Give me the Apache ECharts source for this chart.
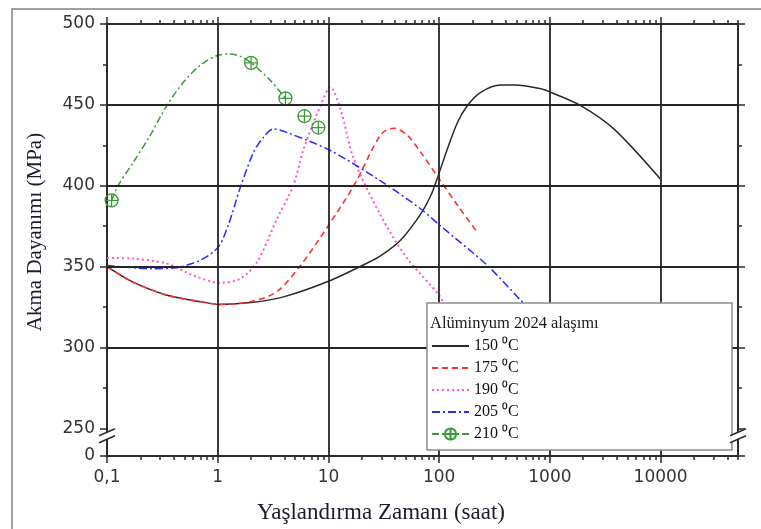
<!DOCTYPE html>
<html><head><meta charset="utf-8">
<script src="https://cdn.jsdelivr.net/npm/echarts@6/dist/echarts.min.js"></script>
<style>html,body{margin:0;padding:0;background:#fff}#c{width:761px;height:529px}</style>
</head><body><div id="c"></div>
<script>
// ---- data (time in hours, strength in MPa) ----
const xTickValues = [0.1, 1, 10, 100, 1000, 10000];
const xTickLabels = ['0,1', '1', '10', '100', '1000', '10000'];
const xAxisEnd = 50000;
const yTickValues = [250, 300, 350, 400, 450, 500];
const yMinorTicks = [275, 325, 375, 425, 475];
const yAxisBottom = 233;          // broken axis: bottom of axis is labelled 0
const yBottomLabel = '0';
const seriesNames = ['150 \u2070C', '175 \u2070C', '190 \u2070C', '205 \u2070C', '210 \u2070C'];
const legendTitle = 'Alüminyum 2024 alaşımı';
const xTitle = 'Yaşlandırma Zamanı (saat)';
const yTitle = 'Akma Dayanımı (MPa)';

const t150 = [0.1, 0.17, 0.35, 0.7, 1.05, 2, 4, 10, 22, 30, 45, 68, 84, 96, 119, 146, 180, 237, 360, 480, 830, 1000, 1900, 3800, 10000];
const v150 = [350, 340.6, 332.3, 328.4, 326.7, 327.8, 331.5, 341, 352, 357, 366.5, 382.5, 394, 404.5, 423, 439, 449.6, 457.8, 462.3, 462.3, 460, 458, 449.6, 435, 404];

const t175 = [0.1, 0.17, 0.35, 0.7, 1.05, 2, 3.4, 5.6, 10, 17, 30, 39, 52, 68, 100, 147, 215];
const v175 = [350, 340.6, 332.3, 328.4, 326.7, 328.5, 334.4, 350.8, 375.5, 400.2, 432, 435.6, 431, 420.8, 404.3, 387.8, 372.4];

const t190 = [0.1, 0.17, 0.35, 0.6, 1.05, 1.6, 2.27, 3.43, 4.82, 5.97, 8.5, 10.4, 12.9, 16.9, 29.6, 51.7, 100, 120];
const v190 = [355.4, 355, 351.9, 344.6, 340.1, 342.6, 352.9, 379.6, 400.2, 422.8, 449.6, 460.9, 447, 416.7, 381.7, 354.9, 332.3, 322];

const t205 = [0.1, 0.25, 0.4, 0.69, 1.01, 1.25, 1.6, 2.11, 2.59, 3.2, 4.2, 10.4, 29.6, 68, 101.6, 272, 546, 800];
const v205 = [350.8, 348.8, 349.2, 353.9, 362.1, 376, 399, 420.8, 430, 435.2, 433, 421.8, 403, 385.8, 375.5, 350.8, 329.2, 318];

const t210 = [0.11, 0.126, 0.173, 0.245, 0.347, 0.49, 0.69, 0.98, 1.29, 1.6, 2.0, 3.0, 4.09];
const v210 = [391, 400.2, 414.6, 431, 449.6, 464, 474.3, 480.4, 481.5, 480, 476, 465, 454];
const t210Marks = [0.11, 2.0, 4.09];
const t210Extra = [6.07, 8.1];      // isolated measured points
const v210Extra = [443, 436];

// ---- build ----
const lg = Math.log10;
const X_MIN = -1, X_MAX = lg(xAxisEnd);
const xMinor = [];
for (let n = -1; n <= 4; n++) for (let k = 2; k <= 9; k++) { const v = lg(k * Math.pow(10, n)); if (v <= X_MAX + 1e-9) xMinor.push(v); }
const xMajor = xTickValues.map(lg);
const yMajor = [yAxisBottom].concat(yTickValues);

const MARK = 'path://M10,0A10,10,0,1,1,10,20A10,10,0,1,1,10,0ZM10,0L10,20M0,10L20,10';
const AX = '#2b2b2b';
const labelFont = 'DejaVu Sans';
const serif = 'Liberation Serif';

function pts(t, v) { return t.map((x, i) => [lg(x), v[i]]); }

const greenData = t210.map((x, i) => ({ value: [lg(x), v210[i]], symbol: t210Marks.includes(x) ? MARK : 'none' }));
t210Extra.forEach((x, i) => {
  greenData.push({ value: [lg(x), '-'], symbol: 'none' });
  greenData.push({ value: [lg(x), v210Extra[i]], symbol: MARK });
});

function xAx(pos, major) {
  return {
    type: 'value', position: pos, min: X_MIN, max: X_MAX,
    axisLine: { show: major, onZero: false, lineStyle: { color: AX, width: 2 } },
    axisTick: { show: true, inside: false, length: major ? 7 : 4, customValues: major ? xMajor : xMinor, lineStyle: { color: AX, width: 1.5 } },
    axisLabel: (major && pos === 'bottom') ? {
      show: true, customValues: xMajor, margin: 13, fontSize: 17, fontFamily: labelFont, color: '#333',
      formatter: v => { const i = xMajor.findIndex(m => Math.abs(m - v) < 1e-6); return i >= 0 ? xTickLabels[i] : ''; }
    } : { show: false },
    splitLine: { show: false }
  };
}
function yAx(pos, major) {
  return {
    type: 'value', position: pos, min: yAxisBottom, max: 500,
    axisLine: { show: major, onZero: false, lineStyle: { color: AX, width: 2 } },
    axisTick: { show: true, inside: false, length: major ? 7 : 4, customValues: major ? yMajor : yMinorTicks, lineStyle: { color: AX, width: 1.5 } },
    axisLabel: (major && pos === 'left') ? {
      show: true, customValues: yMajor, margin: 12, fontSize: 17, fontFamily: labelFont, color: '#333',
      formatter: v => (Math.abs(v - yAxisBottom) < 1e-6 ? yBottomLabel : String(v))
    } : { show: false },
    splitLine: { show: false }
  };
}

const gridLines = yTickValues.slice(1, 5).map(v => ({ yAxis: v })).concat(xMajor.slice(1).map(v => ({ xAxis: v })));

const chart = echarts.init(document.getElementById('c'), null, { renderer: 'canvas' });
const baseGraphics = [
  { type: 'polyline', id: 'frame', z: 0, shape: { points: [[12, 529], [12, 9], [761, 9]] }, style: { stroke: '#a0a0a0', lineWidth: 2, fill: null } },
  { type: 'rect', id: 'legbox', z: 10, shape: { x: 427, y: 303, width: 305, height: 147 }, style: { fill: '#fff', stroke: '#8a8a8a', lineWidth: 1.5 } },
  { type: 'text', id: 'legtitle', z: 20, x: 430, y: 324, style: { text: legendTitle, font: '16.5px "Liberation Serif"', fill: '#1a1a1a', textAlign: 'left', align: 'left', textVerticalAlign: 'middle', verticalAlign: 'middle' } },
  { type: 'text', id: 'xtitle', z: 20, x: 381, y: 513, style: { text: xTitle, font: '23px "Liberation Serif"', fill: '#1c1c2c', textAlign: 'center', align: 'center', textVerticalAlign: 'middle', verticalAlign: 'middle' } },
  { type: 'text', id: 'ytitle', z: 20, x: 35, y: 232, rotation: Math.PI / 2, style: { text: yTitle, font: '21px "Liberation Serif"', fill: '#1c1c2c', textAlign: 'center', align: 'center', textVerticalAlign: 'middle', verticalAlign: 'middle' } }
];

const lineCommon = { type: 'line', smooth: 0.3, symbol: 'none', showSymbol: false, z: 3, xAxisIndex: 0, yAxisIndex: 0, emphasis: { disabled: true } };
const hiddenSym = { opacity: 0 };

chart.setOption({
  animation: false,
  backgroundColor: '#fff',
  grid: { left: 107, right: 23, top: 24, bottom: 73, containLabel: false },
  xAxis: [xAx('bottom', true), xAx('bottom', false), xAx('top', true), xAx('top', false)],
  yAxis: [yAx('left', true), yAx('left', false), yAx('right', true), yAx('right', false)],
  legend: {
    z: 20, orient: 'vertical', left: 431, top: 338, padding: 0,
    data: seriesNames.map((n, i) => (i < 4 ? { name: n, itemStyle: { opacity: 0 } } : { name: n })),
    itemWidth: 37, itemHeight: 14, itemGap: 6,
    textStyle: { fontFamily: serif, fontSize: 16, color: '#111', lineHeight: 14 },
    selectedMode: false
  },
  graphic: baseGraphics,
  series: [
    { type: 'line', name: 'grid', z: 1, data: [[X_MIN, yAxisBottom]], symbol: 'none', showSymbol: false, lineStyle: { width: 0 }, silent: true,
      markLine: { silent: true, symbol: ['none', 'none'], label: { show: false }, lineStyle: { color: '#252525', width: 1.8, type: 'solid' }, emphasis: { disabled: true }, data: gridLines } },
    Object.assign({}, lineCommon, { name: seriesNames[0], data: pts(t150, v150), lineStyle: { color: '#2a2a2a', width: 1.5, type: 'solid' }, itemStyle: hiddenSym }),
    Object.assign({}, lineCommon, { name: seriesNames[1], data: pts(t175, v175), lineStyle: { color: '#ff3030', width: 1.6, type: [6, 4] }, itemStyle: hiddenSym }),
    Object.assign({}, lineCommon, { name: seriesNames[2], data: pts(t190, v190), lineStyle: { color: '#ff55c8', width: 2, type: [2, 3] }, itemStyle: hiddenSym }),
    Object.assign({}, lineCommon, { name: seriesNames[3], data: pts(t205, v205), lineStyle: { color: '#2a2aff', width: 1.5, type: [8, 3, 2, 3] }, itemStyle: hiddenSym }),
    Object.assign({}, lineCommon, { name: seriesNames[4], data: greenData, showSymbol: true, showAllSymbol: true, symbol: MARK, symbolSize: 13, connectNulls: false,
      lineStyle: { color: '#3a9a3a', width: 1.5, type: [7, 3, 2, 3] }, itemStyle: { color: 'rgba(255,255,255,0)', borderColor: '#3a9a3a', borderWidth: 1.3 } })
  ]
});

// axis break marks
const breakVal = 245.5;
const pL = chart.convertToPixel({ xAxisIndex: 0, yAxisIndex: 0 }, [X_MIN, breakVal]);
const pR = chart.convertToPixel({ xAxisIndex: 0, yAxisIndex: 0 }, [X_MAX, breakVal]);
function breakMark(id, p) {
  const x = p[0], c = p[1];
  return [
    { type: 'polygon', id: id + 'w', z: 25, shape: { points: [[x - 8, c], [x + 8, c - 7], [x + 8, c], [x - 8, c + 7]] }, style: { fill: '#fff' } },
    { type: 'line', id: id + 'a', z: 26, shape: { x1: x - 8, y1: c, x2: x + 8, y2: c - 7 }, style: { stroke: AX, lineWidth: 1.5 } },
    { type: 'line', id: id + 'b', z: 26, shape: { x1: x - 8, y1: c + 7, x2: x + 8, y2: c }, style: { stroke: AX, lineWidth: 1.5 } }
  ];
}
chart.setOption({ graphic: baseGraphics.concat(breakMark('bl', pL), breakMark('br', pR)) });
</script>
</body></html>
